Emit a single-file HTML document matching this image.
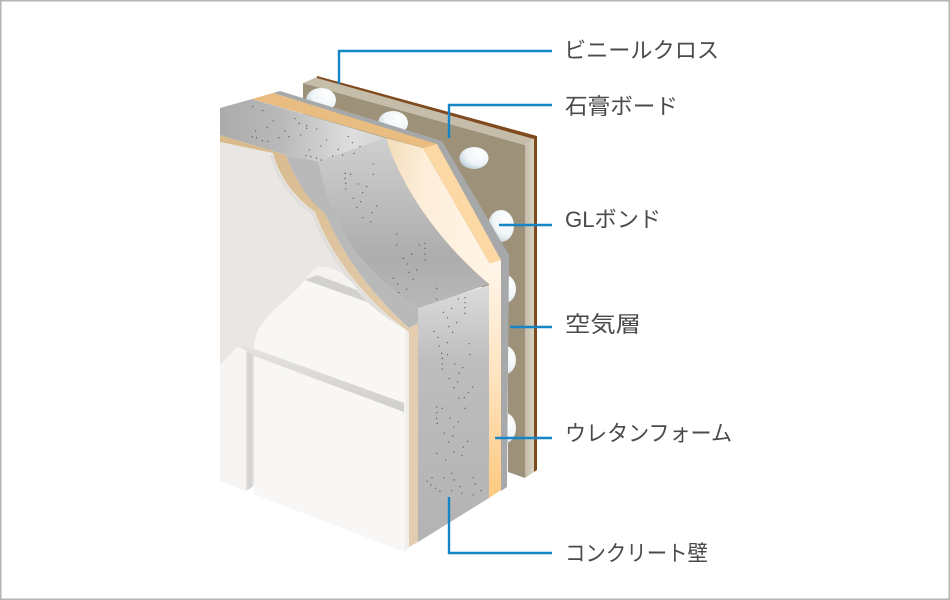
<!DOCTYPE html>
<html><head><meta charset="utf-8"><style>
html,body{margin:0;padding:0;background:#fff}
svg{display:block}
text{font-family:"Liberation Sans","Noto Sans CJK JP",sans-serif;font-size:22px;fill:#4a4a4a}
</style></head><body>
<svg width="950" height="600" viewBox="0 0 950 600" xmlns="http://www.w3.org/2000/svg">
<defs>
<radialGradient id="b" cx="0.7" cy="0.3" r="0.9"><stop offset="0" stop-color="#fff"/><stop offset="0.55" stop-color="#eef4f7"/><stop offset="1" stop-color="#a9bfc9"/></radialGradient>
<linearGradient id="ct" x1="0" y1="0" x2="1" y2="0"><stop offset="0" stop-color="#ababab"/><stop offset="0.35" stop-color="#b8b8b8"/><stop offset="0.8" stop-color="#dedede"/><stop offset="1" stop-color="#d4d4d4"/></linearGradient>
<linearGradient id="cc" x1="0" y1="0" x2="0" y2="1"><stop offset="0" stop-color="#cfcfcf"/><stop offset="0.7" stop-color="#adadad"/><stop offset="1" stop-color="#b8b8b8"/></linearGradient>
<linearGradient id="cf" x1="0" y1="0" x2="0" y2="1"><stop offset="0" stop-color="#dcdcdc"/><stop offset="0.3" stop-color="#bdbdbd"/><stop offset="1" stop-color="#b3b3b3"/></linearGradient>
<linearGradient id="of" x1="0" y1="0" x2="0" y2="1"><stop offset="0" stop-color="#fff6ea"/><stop offset="0.5" stop-color="#fee3bf"/><stop offset="1" stop-color="#fdc97f"/></linearGradient>
<linearGradient id="cr" x1="0" y1="0" x2="1" y2="0.2"><stop offset="0" stop-color="#f3dcb9"/><stop offset="0.4" stop-color="#fdeeda"/><stop offset="1" stop-color="#fff3e4"/></linearGradient>
<linearGradient id="vs" x1="0" y1="0" x2="1" y2="0"><stop offset="0" stop-color="#e4e2e0"/><stop offset="0.5" stop-color="#d2d0ce"/><stop offset="1" stop-color="#e8e6e4"/></linearGradient>
<linearGradient id="rl" x1="0" y1="0" x2="0" y2="1"><stop offset="0" stop-color="#e6e4e2"/><stop offset="1" stop-color="#d0cecc"/></linearGradient>
<linearGradient id="ls" x1="0" y1="0" x2="1" y2="0"><stop offset="0" stop-color="#c4bba7"/><stop offset="1" stop-color="#d8d2c2"/></linearGradient>
<linearGradient id="tn" gradientUnits="userSpaceOnUse" x1="0" y1="135" x2="0" y2="330"><stop offset="0" stop-color="#d8b98b"/><stop offset="1" stop-color="#e3cdae"/></linearGradient>
</defs>
<rect width="950" height="600" fill="#fff"/>
<rect x="0.75" y="0.75" width="948.5" height="598.5" fill="none" stroke="#b4b4b4" stroke-width="1.5"/>

<!-- back board -->
<polygon points="303,83 525,145 525,478 508,472 508,300 303,200" fill="#9d917a"/>
<polygon points="303,83 317,77 534,138 525,145" fill="#c5bdaa"/>
<polygon points="525,145 534,138 534,472 525,478" fill="url(#ls)"/>
<polygon points="317,76 537,136 537,470 534,472 534,139 317,78" fill="#7f4a1d"/>

<!-- GL bond -->
<ellipse cx="321" cy="100" rx="15" ry="12" fill="url(#b)"/>
<ellipse cx="393" cy="123" rx="15" ry="12" fill="url(#b)"/>
<ellipse cx="474" cy="158" rx="14.5" ry="11" fill="url(#b)"/>
<ellipse cx="501" cy="226" rx="13" ry="16" fill="url(#b)"/>
<ellipse cx="503" cy="289" rx="13" ry="15" fill="url(#b)"/>
<ellipse cx="503" cy="360" rx="13" ry="15" fill="url(#b)"/>
<ellipse cx="503" cy="428" rx="13" ry="16" fill="url(#b)"/>

<!-- gray plaster layer -->
<polygon points="273,93 280,91 442,141 509,255 507,487 501,491 501,260 437,144" fill="#a6a8aa"/>

<!-- wall base -->
<path d="M220,142 L273,153 C278,175 295,198 315,212 C330,255 365,300 405,329 L405,552 L254,494 L246,491 L220,481 Z" fill="#e9e6e3"/>
<!-- light edge band -->
<path d="M273,153 C278,175 295,198 315,212 C330,255 365,300 405,329" fill="none" stroke="#dfdedb" stroke-width="3" transform="translate(-1.5,2)"/>
<path d="M317,267 C310,272 308,276 305,280 L367,302 L355,286 C342,270 328,265 317,267Z" fill="#f4f3f1"/>
<polygon points="305,280 317,275 357,290 367,302" fill="#d3d1ce"/>
<path d="M305,280 L367,302 C378,312 392,322 405,329 L405,552 L254,494 L254,353 C254,340 256,332 262,324 C275,306 292,296 305,280 Z" fill="#f8f7f5"/>
<polygon points="220,365 237,347 246,350 246,491 220,481" fill="#f6f5f3"/>
<polygon points="405,329 409,328 409,547 405,552" fill="#efeeec"/>
<polygon points="246,350 254,353 254,486 246,491" fill="url(#vs)"/>
<polygon points="238,346 244,345 404,403 404,412 254,356" fill="url(#rl)"/>
<polygon points="246,491 254,486 254,494" fill="#fff"/>

<!-- tan strip -->
<path d="M220,135 L286,155 C295,180 308,200 325,213 C345,260 375,297 409,328 L418,323 L418,542 L409,547 L409,332 L405,329 C365,300 330,255 315,212 C295,198 278,175 273,153 L220,142 Z" fill="url(#tn)"/>

<!-- concrete strip -->
<path d="M286,155 L318,162 C330,225 360,270 418,309 L418,323 L409,328 C375,297 345,260 325,213 C308,200 295,180 286,155Z" fill="#b9b9b9"/>
<!-- concrete top -->
<polygon points="220,108 252,99 386,138 318,162 286,155 220,135" fill="url(#ct)"/>
<!-- curved concrete -->
<path d="M318,162 L386,138 C398,180 436,240 489,284 L418,309 C360,270 330,225 318,162Z" fill="url(#cc)"/>
<!-- cream -->
<path d="M386,138 L423,148 L490,264 L490,285 L489,284 C436,240 398,180 386,138Z" fill="url(#cr)"/>
<!-- orange top -->
<polygon points="252,99 273,93 437,144 423,148" fill="#e9bd81"/>
<polygon points="423,148 437,144 501,260 490,264" fill="#fcd9a4"/>
<!-- orange front -->
<polygon points="489,264 501,260 501,490 489,498" fill="url(#of)"/>
<!-- concrete front -->
<polygon points="418,308 489,285 489,498 418,542" fill="url(#cf)"/>

<!-- dots -->
<g fill="none" stroke="#5c5c5c" stroke-width="4" stroke-linecap="round" transform="translate(210,70) scale(.3333)">
<path d="M128,110h0M158,122h0M190,153h0M172,173h0M137,183h0M127,200h0M140,203h0M157,212h0M173,214h0M207,203h0M225,183h0M237,200h0M255,146h0M268,160h0M290,167h0M290,175h0M320,177h0M272,195h0M350,210h0M333,228h0M298,240h0M385,238h0M415,200h0M427,218h0M450,230h0M432,250h0M398,256h0M368,258h0M288,257h0M303,260h0M320,265h0M333,270h0M490,282h0M490,313h0M405,310h0M422,313h0M405,325h0M407,340h0M407,357h0M445,342h0M470,350h0M458,368h0M430,385h0M452,395h0M440,413h0M500,408h0M487,428h0M458,443h0M482,455h0M560,492h0M560,525h0M628,525h0M645,520h0M645,535h0M645,552h0M645,570h0M605,553h0M580,565h0M592,582h0M620,600h0M597,607h0M610,628h0M550,625h0M563,642h0M590,658h0M567,668h0"/>
</g>
<g fill="none" stroke="#5c5c5c" stroke-width="4" stroke-linecap="round" transform="translate(210,270) scale(.3333)">
<path d="M680,55h0M680,87h0M745,87h0M765,83h0M765,98h0M765,113h0M765,130h0M725,115h0M700,127h0M713,143h0M740,158h0M717,170h0M728,187h0M672,184h0M684,202h0M712,218h0M688,228h0M778,221h0M780,254h0M695,250h0M713,254h0M697,265h0M697,282h0M697,297h0M735,282h0M758,293h0M747,310h0M718,326h0M743,336h0M732,353h0M788,351h0M775,368h0M763,383h0M747,385h0M765,415h0M680,411h0M697,415h0M680,428h0M680,445h0M682,460h0M720,444h0M745,455h0M732,471h0M703,489h0M728,498h0M716,516h0M773,514h0M760,531h0M732,546h0M756,557h0M680,550h0M707,570h0M725,610h0M702,623h0M666,623h0M732,630h0M790,623h0M796,642h0M652,634h0M663,645h0M677,655h0M690,664h0M750,650h0M725,662h0M756,670h0M790,675h0M813,662h0"/>
</g>

<!-- leader lines -->
<g fill="none" stroke="#1685c5" stroke-width="2.4">
<path d="M339,84V51H552"/>
<path d="M449,138V105H552"/>
<path d="M499,225H552"/>
<path d="M510,327H552"/>
<path d="M495,438H552"/>
<path d="M449,497V553H552"/>
</g>

<!-- labels -->
<text x="564" y="58" textLength="155" lengthAdjust="spacingAndGlyphs">ビニールクロス</text>
<text x="565" y="114" textLength="113" lengthAdjust="spacingAndGlyphs">石膏ボード</text>
<text x="565" y="227" textLength="96" lengthAdjust="spacingAndGlyphs">GLボンド</text>
<text x="565" y="332" textLength="76" lengthAdjust="spacingAndGlyphs">空気層</text>
<text x="565" y="441" textLength="167" lengthAdjust="spacingAndGlyphs">ウレタンフォーム</text>
<text x="565" y="561" textLength="143" lengthAdjust="spacingAndGlyphs">コンクリート壁</text>
</svg>
</body></html>
